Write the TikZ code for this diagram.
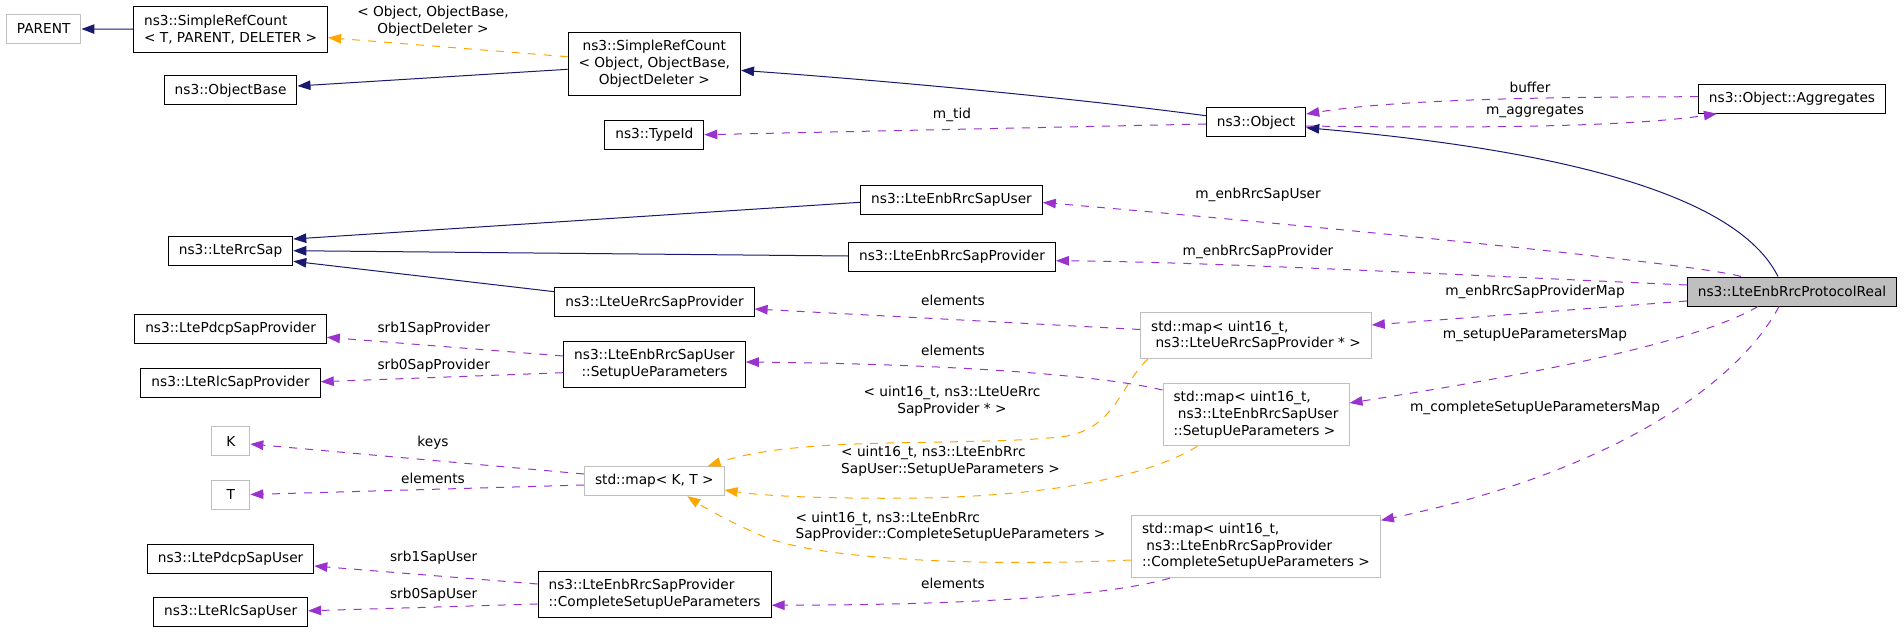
\documentclass[tikz,border=0pt]{standalone}
\usepackage{fontspec}
\setmainfont{DejaVu Sans}
\usetikzlibrary{arrows.meta}
\definecolor{navy}{HTML}{191970}
\definecolor{orchid}{HTML}{9A32CD}
\definecolor{orng}{HTML}{FFA500}
\definecolor{gbord}{HTML}{BFBFBF}
\begin{document}
\begin{tikzpicture}[x=1pt,y=-1pt,
  every node/.style={font=\fontsize{13.7}{16.8}\selectfont},
  box/.style={draw=black,line width=1pt,inner xsep=10.5pt,inner ysep=2pt,minimum height=29pt,align=center},
  gbox/.style={box,draw=gbord},
  two/.style={minimum height=45.8pt},
  three/.style={minimum height=62.6pt},
  tip/.style={-{Triangle[length=13pt,width=9.5pt]}},
  inhedge/.style={draw=navy,line width=1pt,tip},
  useedge/.style={draw=orchid,line width=1pt,dash pattern=on 8pt off 8pt,tip},
  tmpledge/.style={draw=orng,line width=1pt,dash pattern=on 8pt off 8pt,tip},
  edgelbl/.style={inner sep=0pt,align=center}]
\useasboundingbox (0,0) rectangle (1904,632);
\fill[white] (0,0) rectangle (1904,632);
% nodes
\node[gbox] (parent) at (43.7,29) {PARENT};
\node[box,two,align=left] (srcT) at (230.6,29.2) {ns3::SimpleRefCount\\< T, PARENT, DELETER >};
\node[box] (objbase) at (230.6,90.3) {ns3::ObjectBase};
\node[box,three] (srcO) at (654.3,63.7) {ns3::SimpleRefCount\\< Object, ObjectBase,\\ObjectDeleter >};
\node[box] (typeid) at (654.3,134.7) {ns3::TypeId};
\node[box] (obj) at (1256,122.3) {ns3::Object};
\node[box] (aggr) at (1792,98.7) {ns3::Object::Aggregates};
\node[box] (rrcsap) at (230.6,250.7) {ns3::LteRrcSap};
\node[box] (enbuser) at (951.5,199.8) {ns3::LteEnbRrcSapUser};
\node[box] (enbprov) at (952,257) {ns3::LteEnbRrcSapProvider};
\node[box] (ueprov) at (654.5,302.3) {ns3::LteUeRrcSapProvider};
\node[box,fill=gbord] (proto) at (1792,291.5) {ns3::LteEnbRrcProtocolReal};
\node[gbox,two,align=left] (mapUe) at (1256,335.8) {std::map< uint16\_t,\\\mbox{}\ ns3::LteUeRrcSapProvider * >};
\node[box] (pdcpprov) at (230.6,329.2) {ns3::LtePdcpSapProvider};
\node[box,two] (setupue) at (654.5,364.2) {ns3::LteEnbRrcSapUser\\::SetupUeParameters};
\node[box] (rlcprov) at (230.6,382.7) {ns3::LteRlcSapProvider};
\node[gbox,three,align=left] (mapSetup) at (1256,414.5) {std::map< uint16\_t,\\\mbox{}\ ns3::LteEnbRrcSapUser\\::SetupUeParameters >};
\node[gbox,minimum width=38pt] (K) at (230.8,441.2) {K};
\node[gbox] (mkt) at (654.3,481.2) {std::map< K, T >};
\node[gbox,minimum width=38pt] (T) at (230.8,494.5) {T};
\node[box] (pdcpuser) at (230.6,558.5) {ns3::LtePdcpSapUser};
\node[gbox,three,align=left] (mapComp) at (1256,546.3) {std::map< uint16\_t,\\\mbox{}\ ns3::LteEnbRrcSapProvider\\::CompleteSetupUeParameters >};
\node[box,two,align=left] (compsetup) at (654.6,594.2) {ns3::LteEnbRrcSapProvider\\::CompleteSetupUeParameters};
\node[box] (rlcuser) at (230.6,611.8) {ns3::LteRlcSapUser};
% inheritance
\draw[inhedge] (srcT.west) -- (parent.east);
\draw[inhedge] ([yshift=-5.6pt]srcO.west) -- ([yshift=4.3pt]objbase.east);
\draw[inhedge] ([yshift=6.6pt]obj.west) .. controls (1050,95) and (850,78) .. ([yshift=-6.7pt]srcO.east);
\draw[inhedge] ([xshift=-14pt]proto.north) .. controls (1730,180) and (1500,145) .. ([yshift=-5.4pt]obj.east);
\draw[inhedge] ([yshift=-2.5pt]enbuser.west) -- ([yshift=11.7pt]rrcsap.east);
\draw[inhedge] ([yshift=1pt]enbprov.west) -- (rrcsap.east);
\draw[inhedge] ([yshift=10.6pt]ueprov.west) -- ([yshift=-10.6pt]rrcsap.east);
% template
\draw[tmpledge] ([yshift=7pt]srcO.west) -- ([yshift=-8.5pt]srcT.east);
\draw[tmpledge] ([xshift=7.5pt]mapUe.south west) .. controls (1120,385) and (1115,431) .. (1060,437) .. controls (960,447) and (800,435) .. ([xshift=53.4pt]mkt.north);
\draw[tmpledge] ([xshift=-58.6pt]mapSetup.south) .. controls (1150,475) and (1060,495) .. (923,498) .. controls (850,499) and (770,497) .. ([yshift=-8.8pt]mkt.east);
\draw[tmpledge] ([yshift=-13.7pt]mapComp.west) .. controls (1000,566) and (820,562) .. (760,535) .. controls (730,522) and (705,508) .. ([xshift=33pt]mkt.south);
% usage
\draw[useedge] ([yshift=-1.7pt]obj.west) -- (typeid.east);
\draw[useedge] ([yshift=2pt]aggr.west) .. controls (1550,97) and (1400,99) .. ([yshift=8.3pt]obj.east);
\draw[useedge] ([yshift=-3.7pt]obj.east) .. controls (1450,128) and (1620,128) .. ([xshift=19pt]aggr.south west);
\draw[useedge] ([xshift=-51pt]proto.north) .. controls (1690,262) and (1250,220) .. ([yshift=-2.7pt]enbuser.east);
\draw[useedge] ([yshift=6.5pt]proto.west) .. controls (1400,272) and (1200,262) .. ([yshift=-3.7pt]enbprov.east);
\draw[useedge] ([yshift=-9.5pt]proto.west) -- ([yshift=10.8pt]mapUe.east);
\draw[useedge] ([xshift=-34pt]proto.south) .. controls (1700,340) and (1560,370) .. ([yshift=11.5pt]mapSetup.east);
\draw[useedge] ([xshift=-13pt]proto.south) .. controls (1740,380) and (1620,470) .. ([yshift=26pt]mapComp.east);
\draw[useedge] ([yshift=6.3pt]mapUe.west) -- ([yshift=-6.7pt]ueprov.east);
\draw[useedge] ([yshift=24.5pt]mapSetup.west) .. controls (1100,375) and (950,364) .. ([yshift=2.2pt]setupue.east);
\draw[useedge] ([yshift=8.2pt]setupue.west) -- ([yshift=-8.1pt]pdcpprov.east);
\draw[useedge] ([yshift=-8.5pt]setupue.west) -- ([yshift=1pt]rlcprov.east);
\draw[useedge] ([yshift=7.2pt]mkt.west) -- ([yshift=-2.8pt]K.east);
\draw[useedge] ([yshift=-3.8pt]mkt.west) -- (T.east);
\draw[useedge] ([xshift=-86pt]mapComp.south) .. controls (1100,598) and (950,605) .. ([yshift=-11pt]compsetup.east);
\draw[useedge] ([yshift=10.2pt]compsetup.west) -- ([yshift=-7.5pt]pdcpuser.east);
\draw[useedge] ([yshift=-9.8pt]compsetup.west) -- ([yshift=1pt]rlcuser.east);
% labels
\node[edgelbl] (l1) at (433,21.2) {< Object, ObjectBase,\\ObjectDeleter >};
\node[edgelbl] (l2) at (952,115) {m\_tid};
\node[edgelbl] (l3) at (1530,87.3) {buffer};
\node[edgelbl] (l4) at (1535,111) {m\_aggregates};
\node[edgelbl] (l5) at (1258,195) {m\_enbRrcSapUser};
\node[edgelbl] (l6) at (1258,252) {m\_enbRrcSapProvider};
\node[edgelbl] (l7) at (1535,292) {m\_enbRrcSapProviderMap};
\node[edgelbl] (l8) at (1535,335) {m\_setupUeParametersMap};
\node[edgelbl] (l9) at (1535,408) {m\_completeSetupUeParametersMap};
\node[edgelbl] (l10) at (953,300) {elements};
\node[edgelbl] (l11) at (953,350.7) {elements};
\node[edgelbl] (l12) at (433.7,328.3) {srb1SapProvider};
\node[edgelbl] (l13) at (433.7,366) {srb0SapProvider};
\node[edgelbl] (l14) at (433,442.3) {keys};
\node[edgelbl] (l15) at (433,478.3) {elements};
\node[edgelbl] (l16) at (952,401) {< uint16\_t, ns3::LteUeRrc\\SapProvider * >};
\node[edgelbl,align=left] (l17) at (950.5,461) {< uint16\_t, ns3::LteEnbRrc\\SapUser::SetupUeParameters >};
\node[edgelbl,align=left] (l18) at (950.5,526.7) {< uint16\_t, ns3::LteEnbRrc\\SapProvider::CompleteSetupUeParameters >};
\node[edgelbl] (l19) at (953,583.3) {elements};
\node[edgelbl] (l20) at (433.7,557.7) {srb1SapUser};
\node[edgelbl] (l21) at (433.7,595) {srb0SapUser};
\end{tikzpicture}
\end{document}
